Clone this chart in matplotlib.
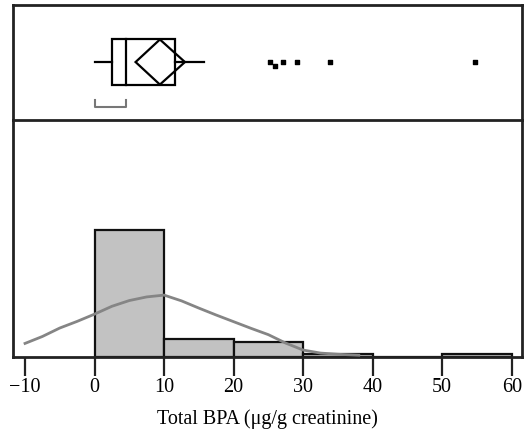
import matplotlib
matplotlib.use("Agg")
import matplotlib.pyplot as plt
from matplotlib.patches import Polygon, Rectangle

# ---- data ----
bin_edges = [0, 10, 20, 30, 40, 50, 60]
bin_counts = [42, 6, 5, 1, 0, 1]

curve_x = [-10, -7.5, -5, -2.5, 0, 2.5, 5, 7.5, 10, 12.5, 15, 17.5, 20, 22.5, 25, 27.5, 30, 32.5, 35, 38]
curve_y = [4.5, 6.8, 9.6, 11.8, 14.2, 16.8, 18.7, 19.9, 20.5, 18.6, 16.2, 13.9, 11.7, 9.5, 7.4, 4.6, 2.3, 1.3, 0.9, 0.6]

q1, median, q3 = 2.45, 4.55, 11.5
whisker_lo, whisker_hi = 0.0, 15.8
mean_val, ci_lo, ci_hi = 9.4, 5.9, 13.0
shortest_half = (0.0, 4.55)
outliers_x = [25.2, 25.9, 27.1, 29.1, 33.8, 54.7]
outliers_y = [0.504, 0.47, 0.504, 0.504, 0.504, 0.504]

xticks = [-10, 0, 10, 20, 30, 40, 50, 60]
xticklabels = ["\u221210", "0", "10", "20", "30", "40", "50", "60"]
xlabel = "Total BPA (\u03bcg/g creatinine)"

# ---- figure ----
fig = plt.figure(figsize=(5.24, 4.36), dpi=100)
L, R = 13 / 524, 522 / 524
yb = 1 - 357 / 436
ym = 1 - 120 / 436
yt = 1 - 5 / 436
xlim = (-11.73, 61.48)
spine_c = "#222222"

ax_top = fig.add_axes([L, ym, R - L, yt - ym])
ax_bot = fig.add_axes([L, yb, R - L, ym - yb])

for ax in (ax_top, ax_bot):
    ax.set_xlim(*xlim)
    for s in ax.spines.values():
        s.set_linewidth(2.0)
        s.set_color(spine_c)
    ax.set_yticks([])

# --- top: box plot ---
ax_top.set_ylim(0, 1)
ax_top.set_xticks([])
yc, hh = 0.504, 0.196
lw = 1.6
ax_top.add_patch(Rectangle((q1, yc - hh), q3 - q1, 2 * hh, fill=False, lw=lw, ec="black"))
ax_top.plot([median, median], [yc - hh, yc + hh], color="black", lw=lw)
ax_top.plot([whisker_lo, q1], [yc, yc], color="black", lw=lw)
ax_top.plot([q3, whisker_hi], [yc, yc], color="black", lw=lw)
diamond = [(ci_lo, yc), (mean_val, yc + hh), (ci_hi, yc), (mean_val, yc - hh)]
ax_top.add_patch(Polygon(diamond, closed=True, fill=False, lw=lw, ec="black"))
ax_top.plot([shortest_half[0], shortest_half[0], shortest_half[1], shortest_half[1]],
            [0.174, 0.113, 0.113, 0.174], color="#777777", lw=1.5)
ax_top.scatter(outliers_x, outliers_y, marker="s", s=6, color="black", zorder=3)

# --- bottom: histogram ---
ax_bot.set_ylim(0, 78.5)
widths = [bin_edges[i + 1] - bin_edges[i] for i in range(len(bin_counts))]
ax_bot.bar(bin_edges[:-1], bin_counts, width=widths, align="edge",
           color="#c2c2c2", edgecolor="#111111", linewidth=1.6, zorder=2)
ax_bot.plot(curve_x, curve_y, color="#858585", lw=2.0, zorder=3)
ax_top.spines["bottom"].set_visible(False)

ax_bot.set_xticks(xticks)
ax_bot.set_xticklabels(xticklabels, fontfamily="Liberation Serif", fontsize=14.5)
ax_bot.tick_params(axis="x", direction="out", length=14, width=1.6, color=spine_c, pad=1)
ax_bot.set_xlabel(xlabel, fontfamily="Liberation Serif", fontsize=14.5, labelpad=9)

fig.savefig("out.png", dpi=100)
